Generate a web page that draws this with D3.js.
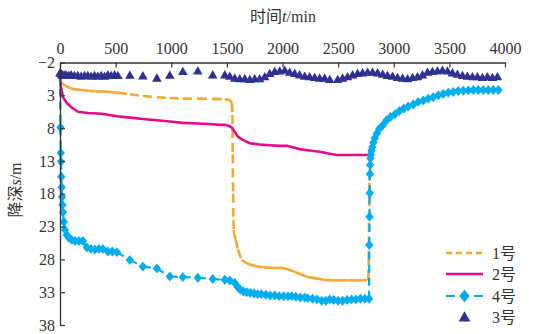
<!DOCTYPE html>
<html>
<head>
<meta charset="utf-8">
<script src="https://cdn.jsdelivr.net/npm/d3@7/dist/d3.min.js"></script>
<style>
  html, body { margin: 0; padding: 0; background: #fff; }
  svg { display: block; }
  text { fill: #333; }
</style>
</head>
<body>
<svg id="chart" width="536" height="334"></svg>
<script>
// Drawdown (m) versus time (min) for four observation wells
const xTicks = [0, 500, 1000, 1500, 2000, 2500, 3000, 3500, 4000];
const yTicks = [-2, 3, 8, 13, 18, 23, 28, 33, 38];
const seriesNames = ["1号", "2号", "4号", "3号"];

// well 1
const t1 = [0, 5, 20, 45, 90, 135, 200, 260, 320, 380, 450, 520, 628, 745, 871, 987, 1104, 1239, 1373, 1481,
  1526, 1545, 1550, 1553, 1556, 1559, 1562, 1568, 1580, 1598, 1634, 1670, 1706, 1777, 1830, 1885, 1940, 1993,
  2050, 2110, 2170, 2226, 2300, 2379, 2440, 2513, 2600, 2680, 2765, 2772, 2775, 2778, 2781, 2784, 2790,
  2800, 2812, 2830, 2848, 2870, 2900, 2935, 2970, 3010, 3050, 3090, 3130, 3175, 3220, 3265, 3310, 3355,
  3400, 3445, 3490, 3535, 3580, 3625, 3670, 3715, 3760, 3805, 3850, 3895, 3940];
const s1 = [0, 0.8, 1.2, 1.5, 1.9, 2.1, 2.2, 2.3, 2.4, 2.4, 2.5, 2.6, 2.85, 3.1, 3.3, 3.4, 3.5, 3.5, 3.55, 3.6,
  3.7, 4.2, 6, 12, 18, 22, 23.5, 24.3, 25.0, 26.5, 28.1, 28.5, 28.8, 29.1, 29.2, 29.3, 29.3, 29.3,
  29.5, 29.9, 30.3, 30.7, 30.9, 31.1, 31.2, 31.2, 31.2, 31.2, 31.2, 31.0, 28, 22, 16, 12.5, 11.0,
  10.4, 9.8, 9.1, 8.5, 7.8, 7.3, 6.6, 6.1, 5.7, 5.3, 4.9, 4.6, 4.3, 3.9, 3.7, 3.4, 3.2,
  2.9, 2.7, 2.5, 2.4, 2.3, 2.25, 2.2, 2.15, 2.15, 2.15, 2.15, 2.15, 2.15];

// well 2
const t2 = [0, 3, 8, 27, 63, 108, 162, 251, 377, 512, 628, 745, 871, 987, 1104, 1239, 1373, 1436, 1481, 1526,
  1550, 1571, 1600, 1643, 1706, 1750, 1795, 1885, 1975, 2038, 2110, 2154, 2244, 2334, 2424, 2487, 2585,
  2675, 2720, 2778, 2790, 2800, 2812, 2830, 2848, 2870, 2900, 2935, 2970, 3010, 3050, 3090, 3130, 3175,
  3220, 3265, 3310, 3355, 3400, 3445, 3490, 3535, 3580, 3625, 3670, 3715, 3760, 3805, 3850, 3895, 3940];
const s2 = [0, 1.0, 1.7, 3.3, 4.2, 4.9, 5.5, 5.7, 5.8, 6.2, 6.4, 6.6, 6.8, 7.0, 7.2, 7.3, 7.4, 7.5, 7.5, 7.7,
  8.0, 8.6, 9.3, 9.8, 10.3, 10.4, 10.5, 10.6, 10.7, 10.7, 11.0, 11.2, 11.4, 11.6, 11.9, 12.1, 12.1,
  12.1, 12.1, 12.1, 11.5, 11.0, 10.4, 9.5, 8.8, 8.1, 7.6, 6.8, 6.3, 5.9, 5.4, 5.0, 4.7, 4.4,
  4.0, 3.8, 3.5, 3.3, 3.0, 2.8, 2.6, 2.5, 2.35, 2.3, 2.25, 2.2, 2.2, 2.2, 2.2, 2.2, 2.2];

// well 4
const t4 = [0, 4, 7, 9, 12, 15, 18, 22, 27, 35, 45, 60, 80, 105, 135, 170, 206, 242, 278, 314, 350, 386, 431, 470, 512,
  628, 745, 871, 987, 1104, 1239, 1373, 1481, 1526, 1571, 1598, 1620, 1650, 1679, 1710, 1745, 1777, 1810,
  1850, 1890, 1930, 1970, 2010, 2050, 2083, 2120, 2160, 2200, 2226, 2270, 2310, 2352, 2390, 2424, 2460,
  2500, 2540, 2580, 2620, 2660, 2700, 2740, 2778, 2780, 2782, 2784, 2786, 2788, 2791, 2795, 2800, 2808,
  2818, 2830, 2848, 2870, 2900, 2935, 2970, 3010, 3050, 3090, 3130, 3175, 3220, 3265, 3310, 3355, 3400,
  3445, 3490, 3535, 3580, 3625, 3670, 3715, 3760, 3805, 3850, 3895, 3940];
const s4 = [0, 7.9, 11.8, 13.1, 15.4, 17.0, 18.5, 19.7, 20.8, 22.3, 23.5, 24.3, 24.7, 25.0, 25.2, 25.2, 25.2, 26.2, 26.4, 26.5, 26.4, 26.4, 26.8, 26.8, 26.9,
  28.1, 29.1, 29.4, 30.6, 30.7, 30.8, 31.0, 31.1, 31.2, 31.6, 32.2, 32.6, 32.9, 33.0, 33.1, 33.2, 33.3, 33.3,
  33.4, 33.5, 33.5, 33.6, 33.6, 33.6, 33.6, 33.7, 33.8, 33.8, 33.9, 34.0, 34.1, 34.3, 34.3, 34.1, 34.2,
  34.3, 34.3, 34.2, 34.1, 34.1, 34.0, 34.0, 34.0, 25.8, 21.5, 17.9, 15.0, 13.6, 12.6, 12.0, 11.4, 10.9,
  10.2, 9.5, 8.8, 8.1, 7.6, 6.8, 6.3, 5.9, 5.4, 5.0, 4.7, 4.4, 4.0, 3.8, 3.5, 3.3, 3.0,
  2.8, 2.6, 2.5, 2.35, 2.3, 2.25, 2.2, 2.2, 2.2, 2.2, 2.2, 2.2];

// well 3
const t3 = [0, 10, 20, 30, 45, 60, 80, 100, 130, 160, 190, 220, 250, 280, 310, 340, 370, 400, 430, 460, 490, 520,
  628, 745, 871, 987, 1104, 1239, 1373, 1481,
  1526, 1571, 1616, 1661, 1706, 1750, 1795, 1840, 1885, 1930, 1975, 2020, 2065, 2110, 2154, 2199, 2244,
  2289, 2334, 2379, 2424, 2496, 2540, 2585, 2630, 2675, 2720, 2765, 2810, 2855, 2900, 2944, 2989, 3034,
  3079, 3124, 3169, 3214, 3258, 3303, 3348, 3393, 3438, 3483, 3528, 3573, 3618, 3662, 3707, 3752, 3797,
  3842, 3887, 3932];
const s3 = [-0.3, -0.2, 0, 0.1, 0, 0.1, 0.1, 0, 0.1, 0.1, 0.2, 0.1, 0.1, 0.2, 0.1, 0.2, 0.1, 0.2, 0, 0.1, 0, 0.1,
  0.05, 0.15, 0.5, 0.05, -0.5, -0.6, 0, 0,
  0.2, 0.5, 0.6, 0.6, 0.7, 0.6, 0.6, 0.3, -0.2, -0.5, -0.6, -0.7, -0.4, -0.2, 0, 0.2, 0.3,
  0.4, 0.5, 0.5, 0.7, 0.7, 0.5, 0.3, 0, -0.2, -0.3, -0.4, -0.4, -0.3, -0.1, 0.1, 0.2, 0.4,
  0.5, 0.6, 0.4, 0.3, 0, -0.4, -0.5, -0.6, -0.7, -0.6, -0.3, -0.1, 0.1, 0.2, 0.3, 0.3, 0.4,
  0.3, 0.4, 0.3];

const colors = { w1: "#F9A630", w2: "#E8088A", w4: "#00AEEF", w3: "#2E3192" };
const numFont = "'Liberation Serif', 'DejaVu Serif', serif";
const cjkFont = "'Liberation Serif', 'Noto Sans CJK SC', serif";

const svg = d3.select("#chart");
const x = d3.scaleLinear().domain([0, 4000]).range([60, 505]);
const y = d3.scaleLinear().domain([-2, 38]).range([62.5, 325]);

// diamond marker, slightly taller than wide
const diamond = {
  draw(ctx, size) {
    const w = Math.sqrt(size) * 0.62, h = Math.sqrt(size) * 0.74;
    ctx.moveTo(0, -h); ctx.lineTo(w, 0); ctx.lineTo(0, h); ctx.lineTo(-w, 0); ctx.closePath();
  }
};

// line drawn segment by segment so each segment restarts its dash pattern
function drawLine(ts, ss, color, width, dash) {
  const pts = ts.map((t, i) => [x(t), y(ss[i])]);
  const g = svg.append("g");
  if (!dash) {
    g.append("path").attr("d", d3.line()(pts))
      .attr("fill", "none").attr("stroke", color).attr("stroke-width", width)
      .attr("stroke-linejoin", "round");
  } else {
    g.selectAll("line").data(d3.pairs(pts)).join("line")
      .attr("x1", d => d[0][0]).attr("y1", d => d[0][1])
      .attr("x2", d => d[1][0]).attr("y2", d => d[1][1])
      .attr("stroke", color).attr("stroke-width", width)
      .attr("stroke-dasharray", dash);
  }
  return g;
}

function drawMarkers(ts, ss, type, size, color) {
  svg.append("g").selectAll("path").data(ts.map((t, i) => [x(t), y(ss[i])])).join("path")
    .attr("transform", d => `translate(${d[0]},${d[1]})`)
    .attr("d", d3.symbol(type, size)())
    .attr("fill", color);
}

drawLine(t1, s1, colors.w1, 2.6, "9,5");
drawLine(t2, s2, colors.w2, 2.6, null);
drawLine(t4, s4, colors.w4, 2.2, "8,5");
drawMarkers(t4, s4, diamond, 45, colors.w4);
drawMarkers(t3, s3, d3.symbolTriangle, 40, colors.w3);

// axes
const axT = svg.append("g").attr("transform", `translate(0,${y(-2)})`)
  .call(d3.axisTop(x).tickValues(xTicks).tickFormat(d3.format("d")).tickSizeInner(-5).tickSizeOuter(0).tickPadding(9));
const axL = svg.append("g").attr("transform", `translate(${x(0)},0)`)
  .call(d3.axisLeft(y).tickValues(yTicks).tickSizeInner(-5).tickSizeOuter(0).tickPadding(5));
[axT, axL].forEach(a => {
  a.attr("font-family", numFont).attr("font-size", 16);
  a.select(".domain").attr("stroke", "#333").attr("stroke-width", 1.3);
  a.selectAll(".tick line").attr("stroke", "#333").attr("stroke-width", 1.2);
  a.selectAll(".tick text").attr("font-family", numFont).attr("font-size", 16).attr("fill", "#333");
});

// axis titles
const title = svg.append("text").attr("x", 283).attr("y", 22).attr("text-anchor", "middle")
  .attr("font-family", cjkFont).attr("font-size", 16);
title.append("tspan").text("时间");
title.append("tspan").attr("font-style", "italic").text("t");
title.append("tspan").text("/min");

const yTitle = svg.append("text").attr("transform", "translate(21,190) rotate(-90)")
  .attr("text-anchor", "middle").attr("font-family", cjkFont).attr("font-size", 16);
yTitle.append("tspan").text("降深");
yTitle.append("tspan").attr("font-style", "italic").text("s");
yTitle.append("tspan").text("/m");

// legend
const legend = svg.append("g");
const legY = [253, 274, 296, 317];
const lx0 = 446, lx1 = 483;
legend.append("line").attr("x1", lx0).attr("x2", lx1).attr("y1", legY[0]).attr("y2", legY[0])
  .attr("stroke", colors.w1).attr("stroke-width", 2.6).attr("stroke-dasharray", "6,4");
legend.append("line").attr("x1", lx0).attr("x2", lx1).attr("y1", legY[1]).attr("y2", legY[1])
  .attr("stroke", colors.w2).attr("stroke-width", 2.6);
legend.append("line").attr("x1", lx0).attr("x2", lx1).attr("y1", legY[2]).attr("y2", legY[2])
  .attr("stroke", colors.w4).attr("stroke-width", 2.2).attr("stroke-dasharray", "9,19");
legend.append("path").attr("transform", `translate(${(lx0 + lx1) / 2},${legY[2]})`)
  .attr("d", d3.symbol(diamond, 70)()).attr("fill", colors.w4);
legend.append("path").attr("transform", `translate(${(lx0 + lx1) / 2},${legY[3] + 1})`)
  .attr("d", d3.symbol(d3.symbolTriangle, 60)()).attr("fill", colors.w3);
legend.selectAll("text.lab").data(seriesNames).join("text").attr("class", "lab")
  .attr("x", 492).attr("y", (d, i) => legY[i] + 5.5)
  .attr("font-family", cjkFont).attr("font-size", 16).text(d => d);
</script>
</body>
</html>
